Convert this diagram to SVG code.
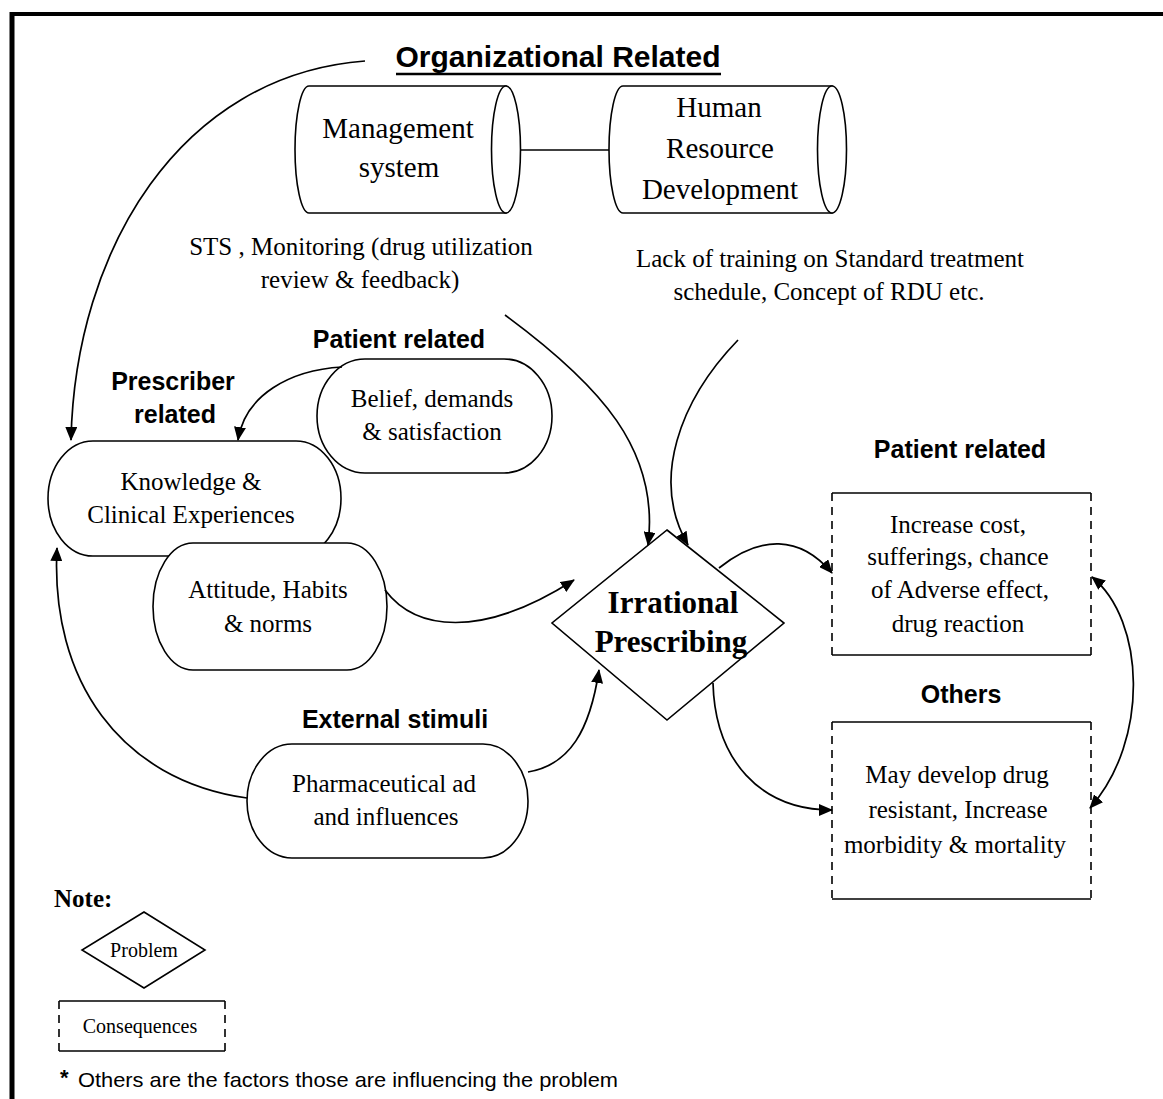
<svg xmlns="http://www.w3.org/2000/svg" width="1163" height="1099" viewBox="0 0 1163 1099">
<defs>
<style>
.bg{fill:#fff}
.sh{fill:#fff;stroke:#000;stroke-width:1.6}
.ln{fill:none;stroke:#000;stroke-width:1.7}
.solid{stroke:#000;stroke-width:1.6}
.dash{stroke:#000;stroke-width:1.6;stroke-dasharray:8 6}
.t{font-family:"Liberation Serif","Times New Roman",serif;font-size:25px;fill:#000;text-anchor:middle}
.tc{font-family:"Liberation Serif","Times New Roman",serif;font-size:29px;fill:#000;text-anchor:middle}
.tb{font-family:"Liberation Serif","Times New Roman",serif;font-size:31px;font-weight:bold;fill:#000;text-anchor:middle}
.lb{font-family:"Liberation Sans",Arial,sans-serif;font-size:25px;font-weight:bold;fill:#000;text-anchor:middle}
.sm{font-family:"Liberation Serif","Times New Roman",serif;font-size:20px;fill:#000;text-anchor:middle}
</style>
<marker id="ah" viewBox="0 0 14 12" refX="13" refY="6" markerWidth="14" markerHeight="12" markerUnits="userSpaceOnUse" orient="auto-start-reverse">
<path d="M0,0 L14,6 L0,12 z" fill="#000"/>
</marker>
</defs>
<rect class="bg" x="0" y="0" width="1163" height="1099"/>
<g id="frame">
<line x1="10" y1="14" x2="1163" y2="14" stroke="#000" stroke-width="4"/>
<line x1="12" y1="12" x2="12" y2="1099" stroke="#000" stroke-width="5"/>
</g>
<g id="title">
<text x="558" y="67" font-family="'Liberation Sans',Arial,sans-serif" font-size="30" font-weight="bold" text-anchor="middle">Organizational Related</text>
<line x1="396" y1="74" x2="721" y2="74" stroke="#000" stroke-width="2.5"/>
</g>
<g id="management">
<path class="sh" d="M309,86 L506,86 L506,213 L309,213 A14,63.5 0 0 1 309,86 z"/>
<ellipse class="sh" cx="506" cy="149.5" rx="14.5" ry="63.5"/>
<text class="tc" x="398" y="138">Management</text>
<text class="tc" x="399" y="177">system</text>
</g>
<g id="hrd">
<path class="sh" d="M623,86 L832,86 L832,213 L623,213 A14,63.5 0 0 1 623,86 z"/>
<ellipse class="sh" cx="832" cy="149.5" rx="14.5" ry="63.5"/>
<text class="tc" x="719" y="117">Human</text>
<text class="tc" x="720" y="158">Resource</text>
<text class="tc" x="720" y="199">Development</text>
</g>
<g id="sts-text">
<text class="t" x="361" y="255">STS , Monitoring (drug utilization</text>
<text class="t" x="360" y="288">review &amp; feedback)</text>
</g>
<g id="hrd-text">
<text class="t" x="830" y="267">Lack of training on Standard treatment</text>
<text class="t" x="829" y="300">schedule, Concept of RDU etc.</text>
</g>
<g id="patient-label">
<text class="lb" x="399" y="348">Patient related</text>
</g>
<g id="prescriber-label">
<text class="lb" x="173" y="390">Prescriber</text>
<text class="lb" x="175" y="423">related</text>
</g>
<g id="belief">
<rect class="sh" x="317" y="359" width="235" height="114" rx="48" ry="57"/>
<text class="t" x="432" y="407">Belief, demands</text>
<text class="t" x="432" y="440">&amp; satisfaction</text>
</g>
<g id="knowledge">
<rect class="sh" x="48" y="441" width="293" height="115" rx="45" ry="57.5"/>
<text class="t" x="191" y="490">Knowledge &amp;</text>
<text class="t" x="191" y="523">Clinical Experiences</text>
</g>
<g id="attitude">
<rect class="sh" x="153" y="543" width="234" height="127" rx="40" ry="63.5"/>
<text class="t" x="268" y="598">Attitude, Habits</text>
<text class="t" x="268" y="632">&amp; norms</text>
</g>
<g id="external-label">
<text class="lb" x="395" y="728">External stimuli</text>
</g>
<g id="pharma">
<rect class="sh" x="247" y="744" width="281" height="114" rx="45" ry="57"/>
<text class="t" x="384" y="792">Pharmaceutical ad</text>
<text class="t" x="386" y="825">and influences</text>
</g>
<g id="irrational">
<polygon class="sh" points="667,530 784,623 667,720 552,623"/>
<text class="tb" x="673" y="613">Irrational</text>
<text class="tb" x="671" y="652">Prescribing</text>
</g>
<g id="patient-consequence">
<text class="lb" x="960" y="458">Patient related</text>
<line class="solid" x1="832" y1="493" x2="1091" y2="493"/>
<line class="solid" x1="832" y1="655" x2="1091" y2="655"/>
<line class="dash" x1="832" y1="493" x2="832" y2="655"/>
<line class="dash" x1="1091" y1="493" x2="1091" y2="655"/>
<text class="t" x="958" y="533">Increase cost,</text>
<text class="t" x="958" y="565">sufferings, chance</text>
<text class="t" x="960" y="598">of Adverse effect,</text>
<text class="t" x="958" y="632">drug reaction</text>
</g>
<g id="others-consequence">
<text class="lb" x="961" y="703">Others</text>
<line class="solid" x1="832" y1="722" x2="1091" y2="722"/>
<line class="solid" x1="832" y1="899" x2="1091" y2="899"/>
<line class="dash" x1="832" y1="722" x2="832" y2="899"/>
<line class="dash" x1="1091" y1="722" x2="1091" y2="899"/>
<text class="t" x="957" y="783">May develop drug</text>
<text class="t" x="958" y="818">resistant, Increase</text>
<text class="t" x="955" y="853">morbidity &amp; mortality</text>
</g>
<g id="connectors">
<line class="ln" x1="520.5" y1="150" x2="609" y2="150"/>
<path class="ln" d="M365,61 C180,75 75,250 71,440" marker-end="url(#ah)"/>
<path class="ln" d="M342,367 C290,370 245,395 238,440" marker-end="url(#ah)"/>
<path class="ln" d="M505,315 C600,385 660,450 648,545" marker-end="url(#ah)"/>
<path class="ln" d="M738,340 C680,400 650,480 688,545" marker-end="url(#ah)"/>
<path class="ln" d="M385,590 C415,630 480,640 574,580" marker-end="url(#ah)"/>
<path class="ln" d="M528,772 C570,765 590,730 599,670" marker-end="url(#ah)"/>
<path class="ln" d="M247,798 C120,780 50,680 57,548" marker-end="url(#ah)"/>
<path class="ln" d="M719,568 C760,535 800,535 832,573" marker-end="url(#ah)"/>
<path class="ln" d="M713,683 C715,760 760,810 832,810" marker-end="url(#ah)"/>
<path class="ln" d="M1092,577 C1145,620 1150,740 1090,808" marker-start="url(#ah)" marker-end="url(#ah)"/>
</g>
<g id="legend">
<text x="54" y="907" font-family="'Liberation Serif','Times New Roman',serif" font-size="25" font-weight="bold">Note:</text>
<g id="legend-problem">
<polygon class="sh" points="144,912 205,950 144,988 82,950"/>
<text class="sm" x="144" y="957">Problem</text>
</g>
<g id="legend-consequences">
<line class="solid" x1="59" y1="1001" x2="225" y2="1001"/>
<line class="solid" x1="59" y1="1051" x2="225" y2="1051"/>
<line class="dash" x1="59" y1="1001" x2="59" y2="1051"/>
<line class="dash" x1="225" y1="1001" x2="225" y2="1051"/>
<text class="sm" x="140" y="1033">Consequences</text>
</g>
<text x="60" y="1085" font-family="'Liberation Sans',Arial,sans-serif" font-size="22" font-weight="bold">*</text>
<text x="78" y="1087" font-family="'Liberation Sans',Arial,sans-serif" font-size="21" textLength="540" lengthAdjust="spacingAndGlyphs">Others are the factors those are influencing the problem</text>
</g>
</svg>
